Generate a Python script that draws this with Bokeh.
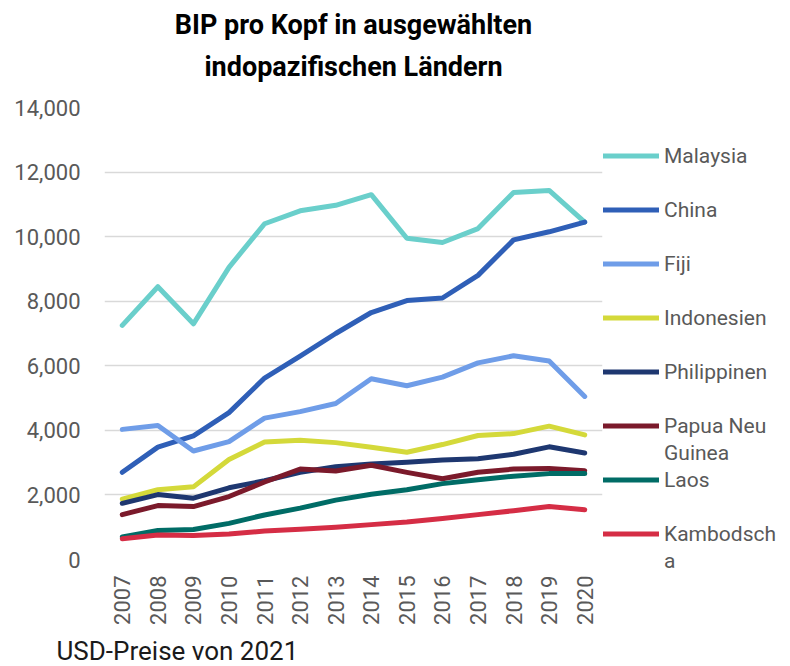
from math import pi
from bokeh.plotting import figure
from bokeh.models import (Range1d, FixedTicker, NumeralTickFormatter, Legend,
                          LegendItem, Title)
from bokeh.embed import file_html
from bokeh.resources import INLINE

years = list(range(2007, 2021))
malaysia = [7250, 8450, 7300, 9050, 10400, 10800, 10970, 11300, 9950, 9820, 10250, 11370, 11430, 10450]
china = [2700, 3480, 3830, 4550, 5620, 6300, 7000, 7650, 8020, 8100, 8800, 9900, 10150, 10450]
fiji = [4030, 4150, 3360, 3650, 4380, 4580, 4830, 5600, 5380, 5650, 6090, 6310, 6150, 5050]
indonesien = [1870, 2160, 2250, 3100, 3640, 3690, 3620, 3480, 3320, 3560, 3840, 3900, 4130, 3860]
philippinen = [1740, 2010, 1900, 2220, 2440, 2700, 2870, 2960, 3010, 3080, 3120, 3260, 3490, 3300]
papua = [1390, 1670, 1640, 1950, 2400, 2800, 2740, 2920, 2700, 2500, 2700, 2800, 2820, 2750]
laos = [700, 900, 930, 1120, 1380, 1590, 1840, 2020, 2160, 2350, 2470, 2580, 2660, 2660]
kambodscha = [640, 760, 740, 790, 880, 940, 1000, 1080, 1160, 1270, 1390, 1510, 1640, 1540]

y_ticks = [0, 2000, 4000, 6000, 8000, 10000, 12000, 14000]

series = [
    (["Malaysia"], malaysia, "#6ACFCB"),
    (["China"], china, "#2F5FB7"),
    (["Fiji"], fiji, "#6F9DE8"),
    (["Indonesien"], indonesien, "#D4D93A"),
    (["Philippinen"], philippinen, "#1E3770"),
    (["Papua Neu", "Guinea"], papua, "#7B1A2B"),
    (["Laos"], laos, "#006C66"),
    (["Kambodsch", "a"], kambodscha, "#D52D45"),
]

FONT = "Roboto"
GREY = "#595959"

p = figure(frame_width=498, frame_height=452, output_backend="svg",
           toolbar_location=None, title=None,
           x_range=Range1d(2006.5, 2020.5), y_range=Range1d(0, 14000),
           min_border_left=104, min_border_right=188, min_border_top=107,
           min_border_bottom=100)

p.outline_line_color = None
p.xgrid.grid_line_color = None
p.ygrid.grid_line_color = "#D9D9D9"
p.ygrid.grid_line_width = 1.5

p.xaxis.ticker = FixedTicker(ticks=years)
p.yaxis.ticker = FixedTicker(ticks=y_ticks)
p.yaxis.formatter = NumeralTickFormatter(format="0,0")
p.xaxis.major_label_orientation = pi / 2
for ax in (p.xaxis, p.yaxis):
    ax.axis_line_color = None
    ax.major_tick_line_color = None
    ax.minor_tick_line_color = None
    ax.major_tick_out = 0
    ax.major_tick_in = 0
    ax.minor_tick_out = 0
    ax.major_label_text_font = FONT
    ax.major_label_text_font_size = "22px"
    ax.major_label_text_color = GREY
p.yaxis.major_label_standoff = 24
p.xaxis.major_label_standoff = 16

dummy = p.line(x=[], y=[], line_alpha=0)

items = []
for labels, vals, color in series:
    r = p.line(years, vals, line_color=color, line_width=5,
               line_join="round", line_cap="round")
    items.append(LegendItem(label=labels[0], renderers=[r]))
    if len(labels) > 1:
        items.append(LegendItem(label=labels[1], renderers=[dummy]))
    else:
        items.append(LegendItem(label=" ", renderers=[dummy]))

legend = Legend(items=items, location="top_left", orientation="vertical",
                title=" ", title_text_font=FONT, title_text_font_size="20px",
                title_standoff=10,
                glyph_width=56, glyph_height=27, label_height=27, spacing=0,
                label_standoff=5, padding=1, margin=0,
                border_line_alpha=0, background_fill_alpha=0,
                label_text_font=FONT, label_text_font_size="21px",
                label_text_color=GREY)
p.add_layout(legend, "right")

# second title line (nearest the plot), with an empty trailing line as spacer
t2 = Title(text="indopazifischen Ländern\n", align="center", standoff=2,
           text_font=FONT, text_font_size="27px", text_font_style="bold",
           text_line_height=0.75, text_color="#000000")
t1 = Title(text="BIP pro Kopf in ausgewählten", align="center", standoff=13,
           text_font=FONT, text_font_size="27px", text_font_style="bold",
           text_color="#000000")
p.add_layout(t2, "above")
p.add_layout(t1, "above")

foot = Title(text="USD-Preise von 2021", align="left", offset=-48, standoff=12,
             text_font=FONT, text_font_size="26px", text_font_style="normal",
             text_line_height=1.0, text_color="#1A1A1A")
p.add_layout(foot, "below")

open("out.html", "w").write(file_html(p, INLINE))
